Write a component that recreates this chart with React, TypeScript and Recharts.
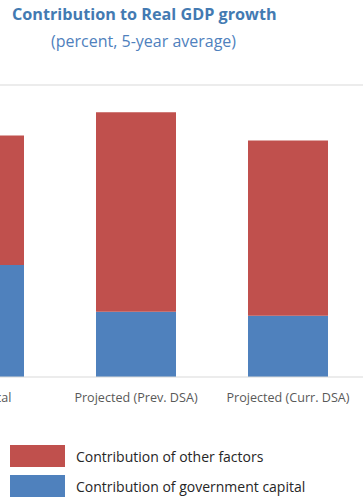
import React from 'react';
import { BarChart, Bar, XAxis, YAxis, ReferenceLine } from 'recharts';

// Five-year average contributions to real GDP growth, in percent
const categories = ['Historical', 'Projected (Prev. DSA)', 'Projected (Curr. DSA)'];
const governmentCapital = [2.3, 1.34, 1.26];
const otherFactors = [2.66, 4.1, 3.6];

const yMax = 6;

const seriesLegend = [
  { key: 'other', label: 'Contribution of other factors', color: '#C0504D' },
  { key: 'gov', label: 'Contribution of government capital', color: '#4F81BD' },
];

const data = categories.map((name, i) => ({
  name,
  gov: governmentCapital[i],
  other: otherFactors[i],
}));

const FONT = "'Open Sans', sans-serif";

const CategoryTick = (props: any) => {
  const { x, y, payload } = props;
  return (
    <text x={x} y={y + 17} textAnchor="middle" fill="#595959" fontSize={12.6} fontFamily={FONT}>
      {payload.value}
    </text>
  );
};

export default function App() {
  return (
    <div
      style={{
        position: 'absolute',
        left: 0,
        top: 0,
        width: 363,
        height: 498,
        overflow: 'hidden',
        background: '#fff',
        fontFamily: FONT,
      }}
    >
      <div
        style={{
          position: 'absolute',
          left: 12,
          top: 3,
          fontSize: 16.2,
          fontWeight: 700,
          color: '#437AB2',
          whiteSpace: 'nowrap',
        }}
      >
        Contribution to Real GDP growth
      </div>
      <div
        style={{
          position: 'absolute',
          left: 51,
          top: 30,
          fontSize: 16,
          color: '#4F81BD',
          whiteSpace: 'nowrap',
        }}
      >
        (percent, 5-year average)
      </div>

      <div style={{ position: 'absolute', left: -92, top: 0 }}>
        <BarChart
          width={456}
          height={410}
          data={data}
          margin={{ top: 85, right: 0, bottom: 3, left: 0 }}
        >
          <YAxis hide domain={[0, yMax]} />
          <XAxis
            dataKey="name"
            height={30}
            tickLine={false}
            axisLine={{ stroke: '#d9d9d9', strokeWidth: 1 }}
            tick={<CategoryTick />}
            interval={0}
          />
          <ReferenceLine y={yMax} stroke="#d9d9d9" strokeWidth={1} ifOverflow="visible" />
          <Bar dataKey="gov" stackId="a" fill="#4F81BD" barSize={80} isAnimationActive={false} />
          <Bar dataKey="other" stackId="a" fill="#C0504D" barSize={80} isAnimationActive={false} />
        </BarChart>
      </div>

      {seriesLegend.map((s, i) => (
        <div
          key={s.key}
          style={{
            position: 'absolute',
            left: 10,
            top: 445 + i * 30,
            height: 22,
            display: 'flex',
            alignItems: 'center',
            whiteSpace: 'nowrap',
          }}
        >
          <div style={{ width: 55, height: 22, background: s.color }} />
          <span style={{ marginLeft: 11, fontSize: 14, color: '#262626' }}>{s.label}</span>
        </div>
      ))}
    </div>
  );
}
